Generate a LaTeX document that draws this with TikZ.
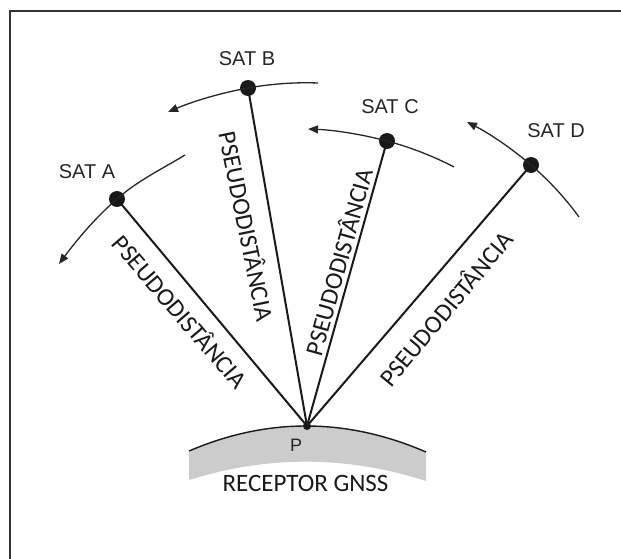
\documentclass[tikz,border=0pt]{standalone}
\usepackage{fontspec}
\setmainfont{Liberation Sans}
\newfontfamily\calib{Carlito}
\usetikzlibrary{arrows.meta}
\begin{document}
\begin{tikzpicture}[x=1pt,y=-1pt,
  sat/.style={circle,fill=black!90,inner sep=0pt,minimum size=16pt},
  pdot/.style={circle,fill=black!90,inner sep=0pt,minimum size=8pt},
  satlabel/.style={font=\fontsize{20}{24}\selectfont,text=black!85,inner sep=0pt},
  plabel/.style={font=\fontsize{18}{22}\selectfont,text=black!85,inner sep=0pt},
  prlabel/.style={font=\calib\fontsize{25}{30}\selectfont,text=black!90,inner sep=0pt},
  rangeline/.style={line width=2pt,black!90},
  orbit/.style={line width=1.3pt,black!85,-{Triangle[length=10pt,width=8pt]}},
  framestyle/.style={line width=2pt,black!80}]
\useasboundingbox (0,0) rectangle (621,559);
% frame
\draw[framestyle] (10,559) -- (10,11) -- (621,11);
% receiver band
\fill[black!20] (189,451) .. controls (267.7,417.3) and (346.7,417.7) .. (426,452)
  -- (426,481) .. controls (346.7,455.5) and (267.7,455.3) .. (189,480) -- cycle;
\draw[line width=1.4pt,black!90] (189,451) .. controls (267.7,417.3) and (346.7,417.7) .. (426,452);
% nodes
\node[sat] (A) at (117,199) {};
\node[sat] (B) at (248,88) {};
\node[sat] (C) at (387,141) {};
\node[sat] (D) at (531,165) {};
\node[pdot] (P) at (307,426) {};
% orbit end points
\coordinate (A1) at (185,155); \coordinate (A2) at (59,264);
\coordinate (B1) at (318,83);  \coordinate (B2) at (168,112);
\coordinate (C1) at (454,167); \coordinate (C2) at (308,129);
\coordinate (D1) at (579,217); \coordinate (D2) at (467,122);
% orbits
\draw[orbit] (A1) .. controls (162,169) and (137,181) .. (A.center)
  .. controls (95,218) and (76,241) .. (A2);
\draw[orbit] (B1) .. controls (295,82.1) and (270.6,83.9) .. (B.center)
  .. controls (220.6,93) and (193.6,101.1) .. (B2);
\draw[orbit] (C1) .. controls (432.7,155.9) and (410.2,147.2) .. (C.center)
  .. controls (361.3,134.2) and (334.6,130.1) .. (C2);
\draw[orbit] (D1) .. controls (565.1,197.9) and (548.9,180.4) .. (D.center)
  .. controls (511.5,148.3) and (489.9,133.7) .. (D2);
% pseudoranges
\draw[rangeline] (A.center) -- (P.center);
\draw[rangeline] (B.center) -- (P.center);
\draw[rangeline] (C.center) -- (P.center);
\draw[rangeline] (D.center) -- (P.center);
% labels
\node[satlabel] (la) at (87,172) {SAT A};
\node[satlabel] (lb) at (247,59) {SAT B};
\node[satlabel] (lc) at (390,107) {SAT C};
\node[satlabel] (ld) at (556,131) {SAT D};
\node[plabel] (lp) at (296,445) {P};
\node[prlabel] (rx) at (305.5,483) {RECEPTOR GNSS};
\node[prlabel,rotate=-49.5] (pa) at (181,311) {PSEUDODISTÂNCIA};
\node[prlabel,rotate=-78.5] (pb) at (247.5,226) {PSEUDODISTÂNCIA};
\node[prlabel,rotate=74.4] (pc) at (337.5,262) {PSEUDODISTÂNCIA};
\node[prlabel,rotate=50.3] (pd) at (445,308) {PSEUDODISTÂNCIA};
\end{tikzpicture}
\end{document}
